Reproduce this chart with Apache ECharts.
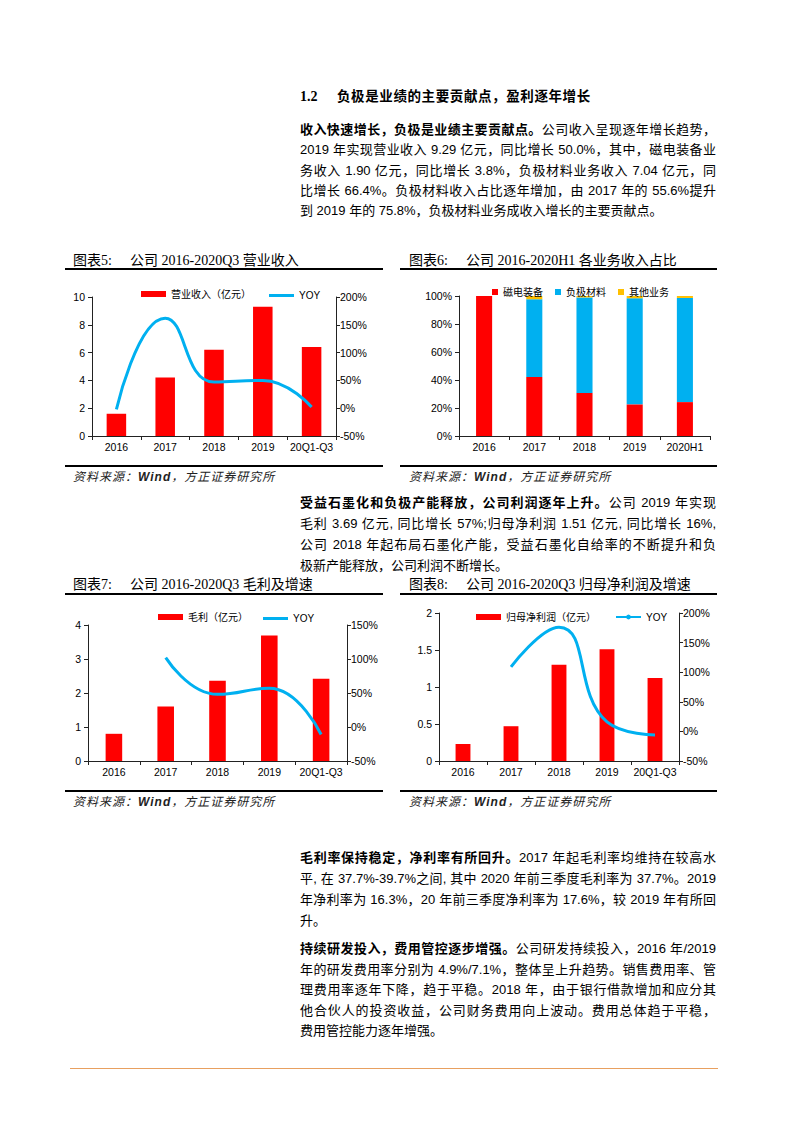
<!DOCTYPE html>
<html>
<head>
<meta charset="utf-8">
<script src="https://cdn.jsdelivr.net/npm/echarts@6.0.0/dist/echarts.min.js"></script>
<style>
html,body{margin:0;padding:0;background:#fff;}
body{width:793px;height:1122px;position:relative;overflow:hidden;font-family:"Liberation Sans","Noto Sans CJK SC",sans-serif;color:#000;}
.abs{position:absolute;}
.para{position:absolute;left:300px;width:416px;font-size:13px;font-family:"Liberation Sans","Noto Sans CJK SC",sans-serif;}
.ln{text-align:justify;text-align-last:justify;}
.ln.last{text-align:left;text-align-last:left;}
b{font-weight:700;font-family:"Noto Sans CJK SC",sans-serif;}
.heading{left:300px;top:86px;font-size:13.5px;font-weight:700;font-family:"Noto Sans CJK SC",sans-serif;white-space:nowrap;line-height:18px;letter-spacing:0.6px;}
.heading .num{font-family:"Liberation Serif",serif;display:inline-block;width:37px;font-size:14px;letter-spacing:0;}
.ctitle{position:absolute;font-size:14px;line-height:18px;font-family:"Liberation Serif","Noto Sans CJK SC",serif;white-space:nowrap;}
.ctitle .lab{display:inline-block;width:57px;}
.rule{position:absolute;height:2px;background:#000;}
.src{position:absolute;font-size:12px;line-height:14px;font-style:italic;font-family:"Noto Sans CJK SC",sans-serif;white-space:nowrap;color:#222;letter-spacing:1px;}
.src i{font-family:"Liberation Sans",sans-serif;font-weight:700;}
.chart{position:absolute;}
</style>
</head>
<body>
<div class="abs heading"><span class="num">1.2</span>负极是业绩的主要贡献点，盈利逐年增长</div>

<div class="para" style="top:119px;line-height:20.3px;">
<div class="ln"><b>收入快速增长，负极是业绩主要贡献点。</b>公司收入呈现逐年增长趋势，</div>
<div class="ln">2019 年实现营业收入 9.29 亿元，同比增长 50.0%，其中，磁电装备业</div>
<div class="ln">务收入 1.90 亿元，同比增长 3.8%，负极材料业务收入 7.04 亿元，同</div>
<div class="ln">比增长 66.4%。负极材料收入占比逐年增加，由 2017 年的 55.6%提升</div>
<div class="ln last">到 2019 年的 75.8%，负极材料业务成收入增长的主要贡献点。</div>
</div>

<div class="ctitle" style="left:73px;top:252px;"><span class="lab">图表5:</span>公司 2016-2020Q3 营业收入</div>
<div class="rule" style="left:65px;top:268px;width:318px;"></div>
<div class="ctitle" style="left:409px;top:252px;"><span class="lab">图表6:</span>公司 2016-2020H1 各业务收入占比</div>
<div class="rule" style="left:400px;top:268px;width:317px;"></div>

<div id="c5" class="chart" style="left:60px;top:275px;width:335px;height:188px;"></div>
<div id="c6" class="chart" style="left:400px;top:275px;width:330px;height:188px;"></div>

<div class="rule" style="left:65px;top:465px;width:318px;"></div>
<div class="rule" style="left:400px;top:465px;width:317px;"></div>
<div class="src" style="left:73px;top:469px;">资料来源：<i>Wind</i>，方正证券研究所</div>
<div class="src" style="left:409px;top:469px;">资料来源：<i>Wind</i>，方正证券研究所</div>

<div class="para" style="top:491px;line-height:21.1px;">
<div class="ln"><b>受益石墨化和负极产能释放，公司利润逐年上升。</b>公司 2019 年实现</div>
<div class="ln">毛利 3.69 亿元, 同比增长 57%;归母净利润 1.51 亿元, 同比增长 16%,</div>
<div class="ln">公司 2018 年起布局石墨化产能，受益石墨化自给率的不断提升和负</div>
<div class="ln last">极新产能释放，公司利润不断增长。</div>
</div>

<div class="ctitle" style="left:73px;top:576px;"><span class="lab">图表7:</span>公司 2016-2020Q3 毛利及增速</div>
<div class="rule" style="left:65px;top:593px;width:318px;"></div>
<div class="ctitle" style="left:409px;top:576px;"><span class="lab">图表8:</span>公司 2016-2020Q3 归母净利润及增速</div>
<div class="rule" style="left:400px;top:593px;width:317px;"></div>

<div id="c7" class="chart" style="left:60px;top:600px;width:335px;height:188px;"></div>
<div id="c8" class="chart" style="left:400px;top:600px;width:330px;height:188px;"></div>

<div class="rule" style="left:65px;top:790px;width:318px;"></div>
<div class="rule" style="left:400px;top:790px;width:317px;"></div>
<div class="src" style="left:73px;top:794px;">资料来源：<i>Wind</i>，方正证券研究所</div>
<div class="src" style="left:409px;top:794px;">资料来源：<i>Wind</i>，方正证券研究所</div>

<div class="para" style="top:846px;line-height:21.1px;">
<div class="ln"><b>毛利率保持稳定，净利率有所回升。</b>2017 年起毛利率均维持在较高水</div>
<div class="ln">平, 在 37.7%-39.7%之间, 其中 2020 年前三季度毛利率为 37.7%。2019</div>
<div class="ln">年净利率为 16.3%，20 年前三季度净利率为 17.6%，较 2019 年有所回</div>
<div class="ln last">升。</div>
</div>

<div class="para" style="top:938px;line-height:20.6px;">
<div class="ln"><b>持续研发投入，费用管控逐步增强。</b>公司研发持续投入，2016 年/2019</div>
<div class="ln">年的研发费用率分别为 4.9%/7.1%，整体呈上升趋势。销售费用率、管</div>
<div class="ln">理费用率逐年下降，趋于平稳。2018 年，由于银行借款增加和应分其</div>
<div class="ln">他合伙人的投资收益，公司财务费用向上波动。费用总体趋于平稳，</div>
<div class="ln last">费用管控能力逐年增强。</div>
</div>

<div class="abs" style="left:70px;top:1068px;width:648px;height:1px;background:#E8A060;"></div>

<script>
// ---- data ----
const yearsQ3 = ['2016', '2017', '2018', '2019', '20Q1-Q3'];
const yearsH1 = ['2016', '2017', '2018', '2019', '2020H1'];

const revenue = [1.6, 4.2, 6.2, 9.29, 6.4];
const revenueYoy = [-2, 162, 47, 50, 2];

const shareMagnet = [100, 42.1, 30.8, 22.6, 24.2];
const shareAnode = [0, 55.6, 68.2, 75.8, 74.4];
const shareOther = [0, 2.3, 1.0, 1.6, 1.4];

const grossProfit = [0.8, 1.6, 2.36, 3.69, 2.42];
const grossYoy = [null, 102, 48, 57, -11];

const netProfit = [0.23, 0.47, 1.3, 1.51, 1.12];
const netYoy = [null, 109, 176, 16, -6];

// ---- styles ----
const FONT = 'Liberation Sans, Noto Sans CJK SC, sans-serif';
const RED = '#FF0000', BLUE = '#00B0F0', YELLOW = '#FFC000';
const AX = '#222';

function valueAxis(min, max, interval, pos, fmt) {
  return {
    type: 'value', position: pos, min: min, max: max, interval: interval,
    axisLine: {show: true, lineStyle: {color: AX, width: 1}},
    axisTick: {show: true, length: 4, lineStyle: {color: AX}},
    splitLine: {show: false},
    axisLabel: {color: '#000', fontSize: 10.5, fontFamily: FONT, margin: pos === 'left' ? 7 : 4,
      formatter: fmt || '{value}'}
  };
}
function catAxis(cats) {
  return {
    type: 'category', data: cats,
    axisLine: {show: true, lineStyle: {color: AX, width: 1}},
    axisTick: {show: true, length: 4, lineStyle: {color: AX}},
    axisLabel: {color: '#000', fontSize: 10.5, fontFamily: FONT, margin: 6, interval: 0}
  };
}

function barLine(el, cfg) {
  const ch = echarts.init(document.getElementById(el), null, {renderer: 'svg'});
  const legTxt = {fontSize: 10, color: '#000', fontFamily: FONT};
  const legends = [{
    left: cfg.legendLeft, top: cfg.legendTop, itemWidth: 25, itemHeight: 6,
    textStyle: legTxt, data: [{name: cfg.barName, icon: 'rect'}]
  }];
  if (cfg.symbol) {
    legends.push({left: cfg.lineLegendLeft, top: cfg.legendTop, itemWidth: 25, itemHeight: 6,
      textStyle: legTxt, data: ['YOY']});
  } else {
    legends.push({left: cfg.lineLegendLeft, top: cfg.legendTop + 1.5, itemWidth: 25, itemHeight: 3,
      textStyle: legTxt, data: [{name: 'YOY', icon: 'rect'}]});
  }
  ch.setOption({
    animation: false,
    textStyle: {fontFamily: FONT},
    legend: legends,
    grid: cfg.grid,
    xAxis: catAxis(cfg.cats),
    yAxis: [valueAxis(cfg.lmin, cfg.lmax, cfg.lint, 'left'),
            valueAxis(-50, cfg.rmax, 50, 'right', '{value}%')],
    series: [
      {name: cfg.barName, type: 'bar', data: cfg.bar, barWidth: cfg.barWidth,
        itemStyle: {color: RED}},
      {name: 'YOY', type: 'line', yAxisIndex: 1, data: cfg.line, smooth: true,
        symbol: cfg.symbol || 'none', showSymbol: false, symbolSize: 6,
        connectNulls: false,
        lineStyle: {color: BLUE, width: 3}, itemStyle: {color: BLUE}}
    ]
  });
}

barLine('c5', {cats: yearsQ3, bar: revenue, line: revenueYoy, barName: '营业收入（亿元）',
  grid: {left: 32, top: 22, width: 244, height: 139}, lmin: 0, lmax: 10, lint: 2, rmax: 200,
  legendLeft: 76, lineLegendLeft: 204, legendTop: 9, barWidth: '40%'});

barLine('c7', {cats: yearsQ3, bar: grossProfit, line: grossYoy, barName: '毛利（亿元）',
  grid: {left: 28, top: 25, width: 259, height: 136}, lmin: 0, lmax: 4, lint: 1, rmax: 150,
  legendLeft: 93, lineLegendLeft: 198, legendTop: 7, barWidth: '32%'});

barLine('c8', {cats: yearsQ3, bar: netProfit, line: netYoy, barName: '归母净利润（亿元）',
  grid: {left: 39, top: 13, width: 240, height: 148}, lmin: 0, lmax: 2, lint: 0.5, rmax: 200,
  legendLeft: 71, lineLegendLeft: 210, legendTop: 7, barWidth: '31%', symbol: 'circle'});

(function () {
  const ch = echarts.init(document.getElementById('c6'), null, {renderer: 'svg'});
  ch.setOption({
    animation: false,
    textStyle: {fontFamily: FONT},
    legend: {
      left: 87, top: 7, itemGap: 12, itemWidth: 6, itemHeight: 6, icon: 'rect',
      textStyle: {fontSize: 10, color: '#000', fontFamily: FONT},
      data: ['磁电装备', '负极材料', '其他业务']
    },
    grid: {left: 59, top: 21, width: 251, height: 140},
    xAxis: catAxis(yearsH1),
    yAxis: valueAxis(0, 100, 20, 'left', '{value}%'),
    series: [
      {name: '磁电装备', type: 'bar', stack: 's', data: shareMagnet, barWidth: '32%', itemStyle: {color: RED}},
      {name: '负极材料', type: 'bar', stack: 's', data: shareAnode, barWidth: '32%', itemStyle: {color: BLUE}},
      {name: '其他业务', type: 'bar', stack: 's', data: shareOther, barWidth: '32%', itemStyle: {color: YELLOW}}
    ]
  });
})();
</script>
</body>
</html>
